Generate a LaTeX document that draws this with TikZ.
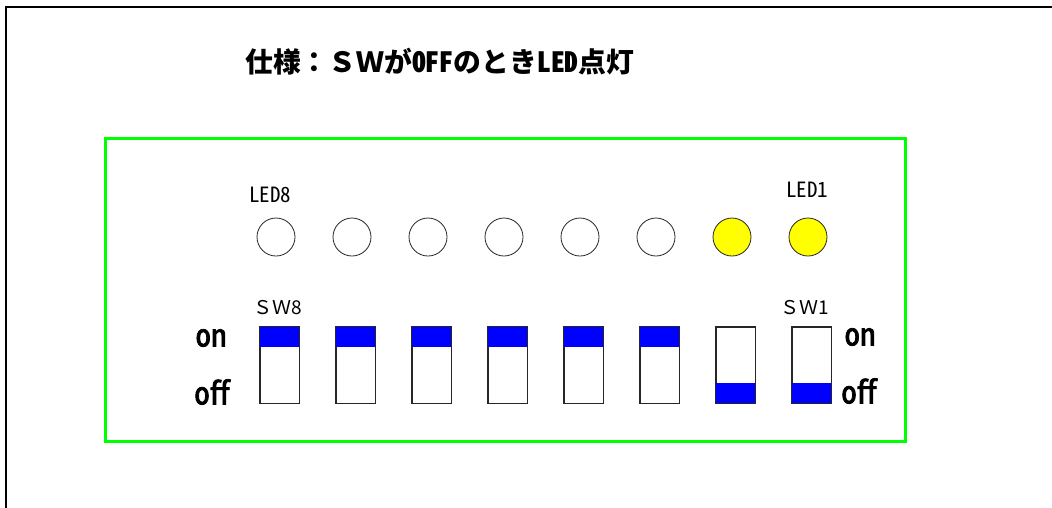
\documentclass[tikz,border=0pt]{standalone}
\usepackage{fontspec}
\newfontfamily\jp{Noto Sans CJK JP}
\newfontfamily\jph{Noto Sans CJK JP}[RawFeature=+hwid]
\newfontfamily\jphb{Noto Sans CJK JP}[RawFeature=+hwid, FakeBold=2.5]
\definecolor{ledyellow}{RGB}{255,255,0}
\definecolor{swblue}{RGB}{0,0,255}
\definecolor{boxgreen}{RGB}{0,255,0}
\tikzset{
  frame/.style={draw=black, line width=2pt},
  board/.style={draw=boxgreen, line width=3pt},
  led/.style={circle, draw=black!85, line width=0.8pt, minimum size=38pt, inner sep=0pt},
  swbody/.style={rectangle, draw=black!85, fill=white, line width=0.8pt, minimum width=39pt, minimum height=76pt, inner sep=0pt},
  knob/.style={fill=swblue},
  title/.style={font=\jp\bfseries\fontsize{27.8}{27.8}\selectfont, inner sep=0pt},
  ledlabel/.style={font=\jph\fontsize{21}{21}\selectfont, inner sep=0pt},
  swlabel/.style={font=\jp\fontsize{19}{19}\selectfont, inner sep=0pt},
  statelabel/.style={font=\jphb\fontsize{31}{31}\selectfont, inner sep=0pt}
}
\begin{document}
\begin{tikzpicture}[x=1pt,y=-1pt]
\useasboundingbox (0,0) rectangle (1052,507);
\clip (0,0) rectangle (1052,507);
\fill[white] (0,0) rectangle (1052,507);
\draw[frame] (5.5,6.5) rectangle (1080,540);
\node[title, anchor=west] (ttl) at (245,62) {仕様：ＳＷが{\jph OFF}のとき{\jph LED}点灯};
\draw[board] (105,138) rectangle (905,441);
\foreach \i in {1,...,8} {
  \pgfmathsetmacro\k{8-\i}
  \pgfmathsetmacro\lx{276+76*\k}
  \pgfmathsetmacro\sx{279.5+76*\k}
  \ifnum\i<3
    \node[led, fill=ledyellow] (led\i) at (\lx,237) {};
  \else
    \node[led, fill=white] (led\i) at (\lx,237) {};
  \fi
  \node[swbody] (sw\i) at (\sx,365) {};
  \ifnum\i<3
    \fill[knob] (sw\i.south west) rectangle ([yshift=20pt]sw\i.south east);
  \else
    \fill[knob] (sw\i.north west) rectangle ([yshift=-20pt]sw\i.north east);
  \fi
  \draw[draw=black!85, line width=0.8pt] (sw\i.north west) rectangle (sw\i.south east);
}
\node[ledlabel] (l8) at (270,195) {LED8};
\node[ledlabel] (l1) at (807,190) {LED1};
\node[swlabel] (s8) at (278,308) {ＳＷ8};
\node[swlabel] (s1) at (805,308) {ＳＷ1};
\node[statelabel] (onl) at (211,338) {on};
\node[statelabel] (offl) at (212,392) {off};
\node[statelabel] (onr) at (860,337) {on};
\node[statelabel] (offr) at (859,391) {off};
\end{tikzpicture}
\end{document}
